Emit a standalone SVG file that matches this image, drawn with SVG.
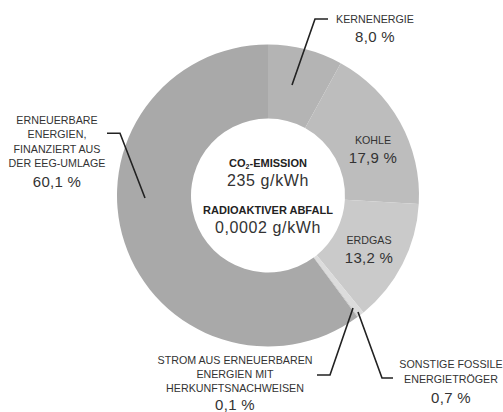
<svg xmlns="http://www.w3.org/2000/svg" width="503" height="412" viewBox="0 0 503 412">
<style>
.lbl{font-family:"Liberation Sans",Arial,sans-serif;font-size:10.7px;fill:#333;text-anchor:middle}
.num{font-family:"Liberation Sans",Arial,sans-serif;font-size:15px;fill:#333;text-anchor:middle;letter-spacing:0.3px}
.ctb{font-family:"Liberation Sans",Arial,sans-serif;font-size:11px;font-weight:bold;fill:#222;text-anchor:middle}
.ctn{font-family:"Liberation Sans",Arial,sans-serif;font-size:16px;fill:#333;text-anchor:middle;letter-spacing:0.6px}
.lead{fill:none;stroke:#222;stroke-width:1.6}
</style>
<rect width="503" height="412" fill="#fff"/>
<g id="erneuerbare">
<path d="M357.52,317.10 A151,151 0 1 1 268,44.5 L268,118.5 A77,77 0 1 0 313.65,257.51 Z" fill="#a9a9a9"/>
<text class="lbl" x="57" y="124">ERNEUERBARE</text>
<text class="lbl" x="57" y="138">ENERGIEN,</text>
<text class="lbl" x="57" y="152.5">FINANZIERT AUS</text>
<text class="lbl" x="57" y="166.5">DER EEG-UMLAGE</text>
<text class="num" x="57" y="187">60,1 %</text>
</g>
<g id="kernenergie">
<path d="M268,44.5 A151,151 0 0 1 340.74,63.18 L305.09,128.02 A77,77 0 0 0 268,118.5 Z" fill="#b4b4b4"/>
<text class="lbl" x="375" y="23">KERNENERGIE</text>
<text class="num" x="375" y="42">8,0 %</text>
</g>
<g id="kohle">
<path d="M340.74,63.18 A151,151 0 0 1 418.76,204.03 L344.88,199.85 A77,77 0 0 0 305.09,128.02 Z" fill="#bdbdbd"/>
<text class="lbl" x="373" y="144">KOHLE</text>
<text class="num" x="373" y="163">17,9 %</text>
</g>
<g id="erdgas">
<path d="M418.76,204.03 A151,151 0 0 1 363.51,312.45 L316.70,255.14 A77,77 0 0 0 344.88,199.85 Z" fill="#cacaca"/>
<text class="lbl" x="369" y="244">ERDGAS</text>
<text class="num" x="369" y="263">13,2 %</text>
</g>
<g id="sonstige">
<path d="M363.51,312.45 A151,151 0 0 1 358.28,316.54 L314.04,257.22 A77,77 0 0 0 316.70,255.14 Z" fill="#dcdcdc"/>
<text class="lbl" x="451" y="368">SONSTIGE FOSSILE</text>
<text class="lbl" x="451" y="383">ENERGIETRÖGER</text>
<text class="num" x="451" y="403">0,7 %</text>
</g>
<g id="strom">
<path d="M358.28,316.54 A151,151 0 0 1 357.52,317.10 L313.65,257.51 A77,77 0 0 0 314.04,257.22 Z" fill="#c4c4c4"/>
<text class="lbl" x="235" y="364">STROM AUS ERNEUERBAREN</text>
<text class="lbl" x="235" y="378">ENERGIEN MIT</text>
<text class="lbl" x="235" y="392">HERKUNFTSNACHWEISEN</text>
<text class="num" x="235" y="410">0,1 %</text>
</g>
<g id="center">
<text class="ctb" x="268" y="167">CO<tspan font-size="7" dy="2">2</tspan><tspan dy="-2">-EMISSION</tspan></text>
<text class="ctn" x="268" y="186">235 g/kWh</text>
<text class="ctb" x="268" y="214">RADIOAKTIVER ABFALL</text>
<text class="ctn" x="268" y="233">0,0002 g/kWh</text>
</g>
<g id="connectors">
<polyline class="lead" points="292,85 315,19 328,19"/>
<polyline class="lead" points="107,133.3 120,133.3 145,198"/>
<polyline class="lead" points="317,375 330,375 353,308"/>
<polyline class="lead" points="358,312 382,378 393,378"/>
</g>
</svg>
